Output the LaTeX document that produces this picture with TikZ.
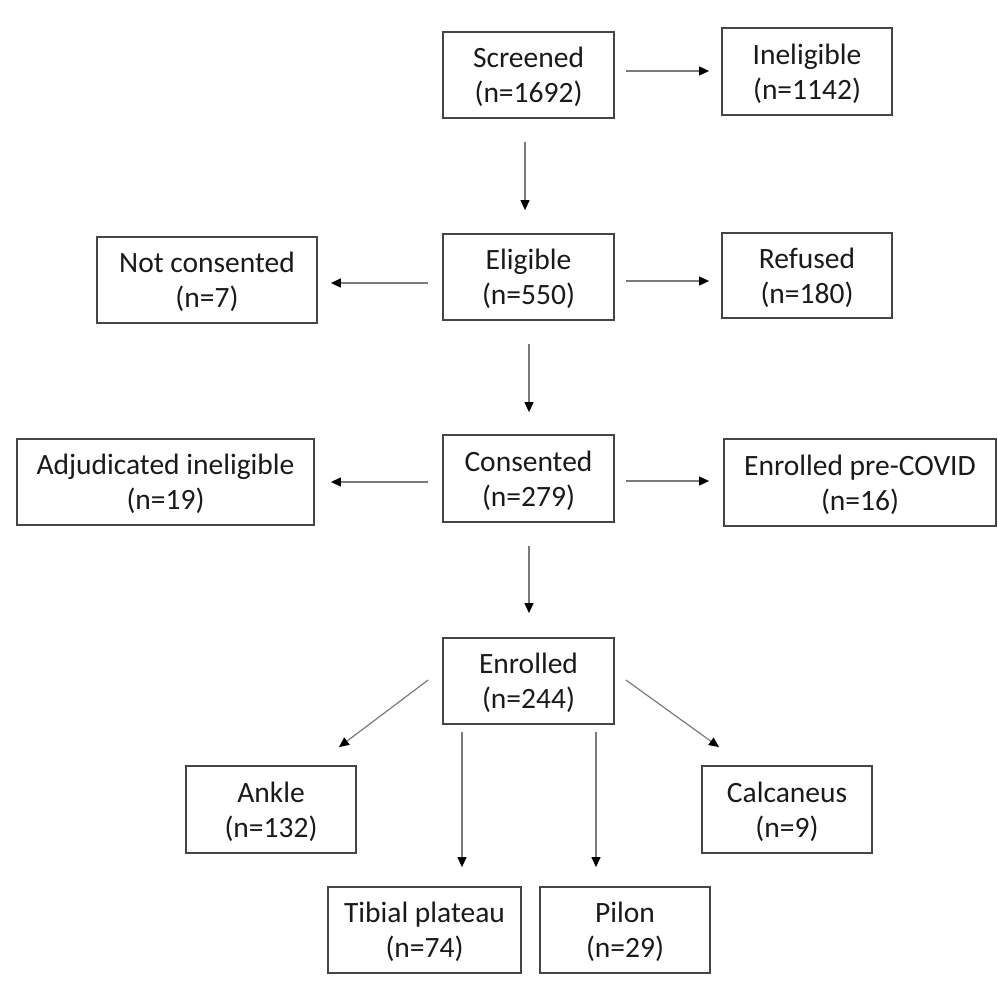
\documentclass[tikz,border=0pt]{standalone}
\usepackage{fontspec}
\setmainfont{Carlito}
\usetikzlibrary{arrows.meta,calc}
\definecolor{boxline}{HTML}{454545}
\definecolor{arrline}{HTML}{7A7A7A}
\definecolor{txt}{HTML}{1A1A1A}
\begin{document}
\begin{tikzpicture}[x=1pt,y=-1pt,
  box/.style={draw=boxline,line width=1.8pt,inner sep=0pt,align=center,
    text depth=0pt,text=txt,font=\fontsize{29.5}{35}\selectfont},
  arr/.style={draw=arrline,line width=1.2pt,
    -{Triangle[length=10pt,width=9pt,color=black]}}]
\useasboundingbox (0,0) rectangle (998,980);
\node[box,minimum width=171pt,minimum height=86pt] (scr) at (528.5,75) {Screened\\(n=1692)};
\node[box,minimum width=170pt,minimum height=87pt] (ine) at (807,71.5) {Ineligible\\(n=1142)};
\node[box,minimum width=171pt,minimum height=86pt] (eli) at (528.5,277) {Eligible\\(n=550)};
\node[box,minimum width=220pt,minimum height=86pt] (noc) at (207,280) {Not consented\\(n=7)};
\node[box,minimum width=170pt,minimum height=85pt] (ref) at (807,275.5) {Refused\\(n=180)};
\node[box,minimum width=171pt,minimum height=87pt] (con) at (528.5,478.5) {Consented\\(n=279)};
\node[box,minimum width=297pt,minimum height=86pt] (adj) at (165.5,482) {Adjudicated ineligible\\(n=19)};
\node[box,minimum width=272pt,minimum height=87pt] (pre) at (860,482.5) {Enrolled pre-COVID\\(n=16)};
\node[box,minimum width=171pt,minimum height=86pt] (enr) at (528.5,681) {Enrolled\\(n=244)};
\node[box,minimum width=170pt,minimum height=87pt] (ank) at (271,809.5) {Ankle\\(n=132)};
\node[box,minimum width=170pt,minimum height=87pt] (cal) at (787,809.5) {Calcaneus\\(n=9)};
\node[box,minimum width=193pt,minimum height=86pt] (tib) at (424.5,930) {Tibial plateau\\(n=74)};
\node[box,minimum width=170pt,minimum height=86pt] (pil) at (625,930) {Pilon\\(n=29)};

\draw[arr] ($(scr.east)+(11,-4)$) -- ($(ine.west)+(-12,-0.5)$);
\draw[arr] ($(scr.south)+(-3.5,23)$) -- ($(eli.north)+(-3.5,-23)$);
\draw[arr] ($(eli.west)+(-14,6)$) -- ($(noc.east)+(13,3)$);
\draw[arr] ($(eli.east)+(11,4)$) -- ($(ref.west)+(-12,5.5)$);
\draw[arr] ($(eli.south)+(0.5,23)$) -- ($(con.north)+(0.5,-22)$);
\draw[arr] ($(con.west)+(-14,3.5)$) -- ($(adj.east)+(16,0)$);
\draw[arr] ($(con.east)+(11,2.5)$) -- ($(pre.west)+(-14,-1.5)$);
\draw[arr] ($(con.south)+(0.5,23)$) -- ($(enr.north)+(0.5,-24)$);
\draw[arr] ($(enr.west)+(-14,-1)$) -- ($(ank.north)+(68,-18)$);
\draw[arr] ($(enr.east)+(11,-1)$) -- ($(cal.north)+(-68,-18)$);
\draw[arr] ($(enr.south)+(-66.5,7)$) -- ($(tib.north)+(37.5,-19)$);
\draw[arr] ($(enr.south)+(67.5,7)$) -- ($(pil.north)+(-29,-19)$);
\end{tikzpicture}
\end{document}
